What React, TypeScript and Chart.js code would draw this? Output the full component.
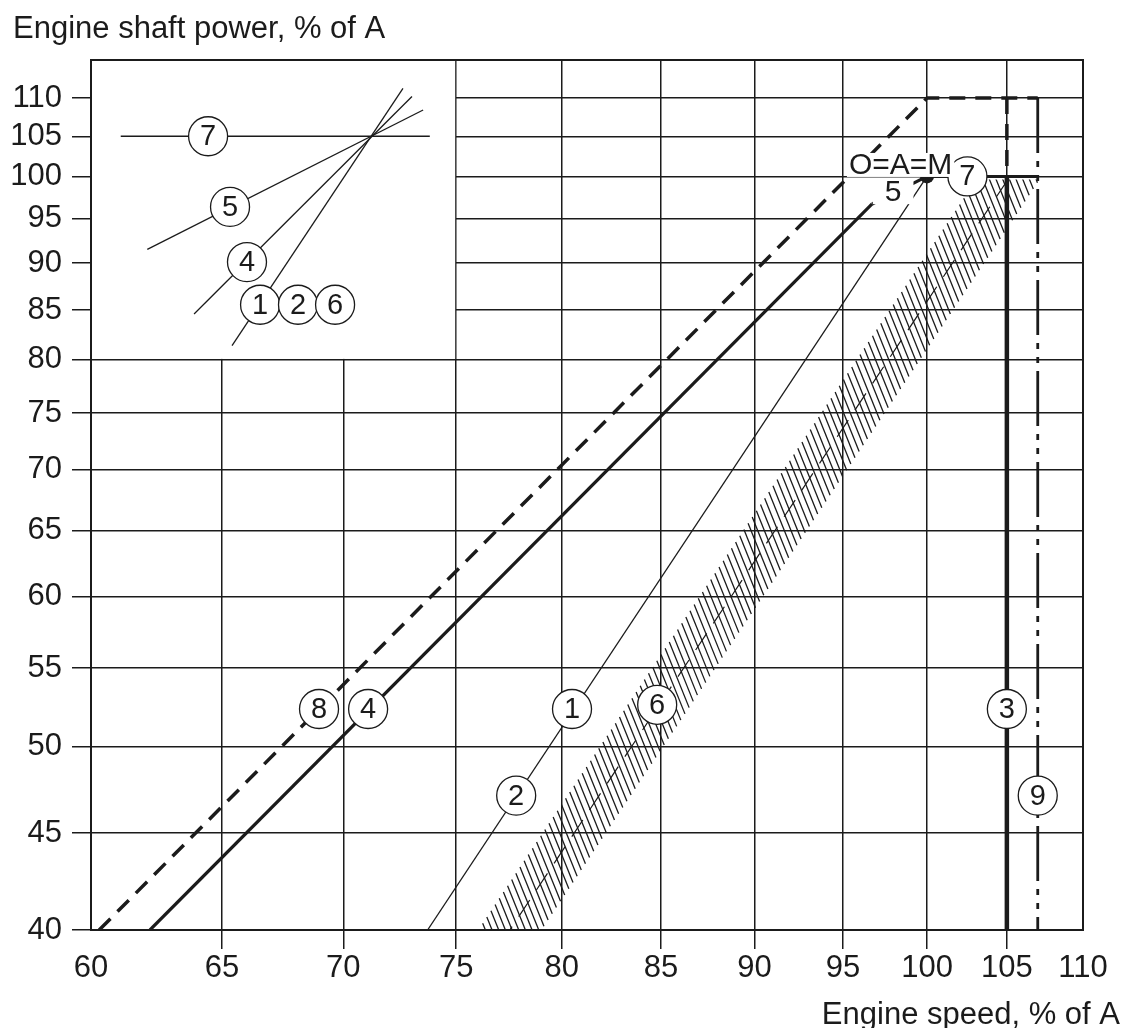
import React, { useEffect, useRef } from "react";
import { Chart, registerables } from "chart.js";
Chart.register(...registerables);

// ---- axes ----
const xTicks = [60, 65, 70, 75, 80, 85, 90, 95, 100, 105, 110];
const yTicks = [40, 45, 50, 55, 60, 65, 70, 75, 80, 85, 90, 95, 100, 105, 110];
const X_MIN = 60;
const X_MAX = 110;
const Y_MIN = 40;
const Y_MAX = 115.2;

// ---- main diagram lines (engine speed %, shaft power %) ----
const line8 = [{ x: 60.3, y: 40 }, { x: 100, y: 110 }, { x: 107, y: 110 }];
const line8Drop = [{ x: 105, y: 110 }, { x: 105, y: 100 }];
const line4 = [{ x: 62.2, y: 40 }, { x: 96.7, y: 96.7 }];
const line5 = [{ x: 96.7, y: 96.7 }, { x: 100, y: 100 }];
const line1 = [{ x: 73.7, y: 40 }, { x: 100, y: 100 }];
const line7 = [{ x: 100, y: 100 }, { x: 107, y: 100 }];
const line3 = [{ x: 105, y: 100 }, { x: 105, y: 40 }];
const line9 = [{ x: 107, y: 110 }, { x: 107, y: 40 }];
const pointOAM = [{ x: 100, y: 100 }];
// line 6: hatched band around a light propeller curve
const line6Center = [{ x: 77.5, y: 40 }, { x: 105.2, y: 100 }];

// ---- inset (schematic of line slopes) ----
const insetBox = { x0: 60, x1: 75, y0: 80, y1: 115.2 };
const inset7 = [{ x: 61.1, y: 105 }, { x: 73.8, y: 105 }];
const inset5 = [{ x: 62.1, y: 91.5 }, { x: 73.5, y: 108.4 }];
const inset4 = [{ x: 63.9, y: 84.6 }, { x: 73.0, y: 110.2 }];
const inset1 = [{ x: 65.4, y: 81.4 }, { x: 72.6, y: 111.3 }];

// ---- labels ----
const circledLabels = [
  { t: "8", x: 68.97, y: 52.33 },
  { t: "4", x: 71.07, y: 52.33 },
  { t: "1", x: 80.5, y: 52.33 },
  { t: "2", x: 77.8, y: 47.1 },
  { t: "6", x: 84.8, y: 52.6 },
  { t: "3", x: 105, y: 52.33 },
  { t: "9", x: 107, y: 47.1 },
  { t: "7", x: 102.5, y: 100 },
  { t: "7", x: 64.45, y: 105 },
  { t: "5", x: 65.32, y: 96.36 },
  { t: "4", x: 66.0, y: 90.1 },
  { t: "1", x: 66.53, y: 85.55 },
  { t: "2", x: 68.09, y: 85.55 },
  { t: "6", x: 69.65, y: 85.55 },
];
const plainLabels = [
  { t: "O=A=M", x: 98.4, y: 101.4, pad: 2 },
  { t: "5", x: 97.95, y: 98.1, pad: 12 },
];
const yTitle = "Engine shaft power, % of A";
const xTitle = "Engine speed, % of A";

const INK = "#1b1b1b";
const FONT = "'Liberation Sans', Arial, Helvetica, sans-serif";

const mk = (data: any[], width: number, dash: number[] = []) => ({
  data,
  showLine: true,
  pointRadius: 0,
  borderColor: INK,
  backgroundColor: INK,
  borderWidth: width,
  borderDash: dash,
  borderCapStyle: "butt",
  fill: false,
  tension: 0,
});

const diagramPlugin = {
  id: "diagram",
  beforeDatasetsDraw(chart: any) {
    const { ctx, chartArea: a, scales } = chart;
    const sx = scales.x;
    const sy = scales.y;
    // blank inset area
    const ix0 = sx.getPixelForValue(insetBox.x0);
    const ix1 = sx.getPixelForValue(insetBox.x1);
    const iy1 = sy.getPixelForValue(insetBox.y1);
    const iy0 = sy.getPixelForValue(insetBox.y0);
    ctx.save();
    ctx.fillStyle = "#fff";
    ctx.fillRect(ix0 + 1, iy1 + 1, ix1 - ix0 - 2, iy0 - iy1 - 2);
    ctx.restore();

    // hatched band (line 6)
    const p0x = sx.getPixelForValue(line6Center[0].x);
    const p0y = sy.getPixelForValue(line6Center[0].y);
    const p1x = sx.getPixelForValue(line6Center[1].x);
    const p1y = sy.getPixelForValue(line6Center[1].y);
    const len = Math.hypot(p1x - p0x, p1y - p0y);
    const ux = (p1x - p0x) / len;
    const uy = (p1y - p0y) / len;
    const ang = (112 * Math.PI) / 180;
    const dx = Math.cos(ang);
    const dy = -Math.sin(ang);
    const half = 32;
    const topY = sy.getPixelForValue(100);
    ctx.save();
    ctx.beginPath();
    ctx.rect(a.left, topY + 3, a.right - a.left, a.bottom - topY - 3);
    ctx.clip();
    ctx.strokeStyle = INK;
    ctx.lineWidth = 1.3;
    for (let t = -80; t <= len + 40; t += 7.5) {
      const cx = p0x + ux * t;
      const cy = p0y + uy * t;
      ctx.beginPath();
      ctx.moveTo(cx - dx * half, cy - dy * half);
      ctx.lineTo(cx + dx * half, cy + dy * half);
      ctx.stroke();
    }
    ctx.setLineDash([20, 12]);
    ctx.lineWidth = 1.2;
    ctx.beginPath();
    ctx.moveTo(p0x - ux * 80, p0y - uy * 80);
    ctx.lineTo(p1x, p1y);
    ctx.stroke();
    ctx.restore();
  },
  afterDatasetsDraw(chart: any) {
    const { ctx, chartArea: a, scales } = chart;
    const sx = scales.x;
    const sy = scales.y;
    ctx.save();
    // frame
    ctx.strokeStyle = INK;
    ctx.lineWidth = 2;
    ctx.strokeRect(a.left, a.top, a.right - a.left, a.bottom - a.top);
    // circled labels
    ctx.font = `29px ${FONT}`;
    ctx.textAlign = "center";
    ctx.textBaseline = "middle";
    for (const l of circledLabels) {
      const px = sx.getPixelForValue(l.x);
      const py = sy.getPixelForValue(l.y);
      ctx.beginPath();
      ctx.arc(px, py, 19.5, 0, Math.PI * 2);
      ctx.fillStyle = "#fff";
      ctx.fill();
      ctx.lineWidth = 1.3;
      ctx.strokeStyle = INK;
      ctx.stroke();
      ctx.fillStyle = INK;
      ctx.fillText(l.t, px, py + 1);
    }
    // plain labels with white backing
    ctx.font = `30px ${FONT}`;
    for (const l of plainLabels) {
      const px = sx.getPixelForValue(l.x);
      const py = sy.getPixelForValue(l.y);
      const w = ctx.measureText(l.t).width;
      ctx.fillStyle = "#fff";
      ctx.fillRect(px - w / 2 - l.pad, py - 12, w + 2 * l.pad, 24);
      ctx.fillStyle = INK;
      ctx.fillText(l.t, px, py + 1);
    }
    ctx.restore();
  },
  afterDraw(chart: any) {
    const { ctx } = chart;
    ctx.save();
    ctx.fillStyle = INK;
    ctx.font = `31px ${FONT}`;
    ctx.textBaseline = "alphabetic";
    ctx.textAlign = "left";
    ctx.fillText(yTitle, 13, 38);
    ctx.textAlign = "right";
    ctx.fillText(xTitle, 1120, 1024);
    ctx.restore();
  },
};

export default function App() {
  const ref = useRef<HTMLCanvasElement>(null);
  useEffect(() => {
    const canvas = ref.current!;
    const chart = new Chart(canvas, {
      type: "scatter",
      data: {
        datasets: [
          mk(inset7, 1.3),
          mk(inset5, 1.3),
          mk(inset4, 1.3),
          mk(inset1, 1.3),
          mk(line1, 1.3),
          mk(line8, 3.5, [16, 10]),
          mk(line8Drop, 3.5, [16, 10]),
          mk(line4, 3.2),
          mk(line5, 3.2),
          mk(line7, 3),
          mk(line3, 4.5),
          mk(line9, 2.8, [55, 8, 6, 8, 6, 8]),
          { ...mk(pointOAM, 0), showLine: false, pointRadius: 7, pointBackgroundColor: INK, pointBorderWidth: 0 },
        ] as any,
      },
      options: {
        responsive: false,
        devicePixelRatio: 1,
        animation: false,
        events: [],
        layout: { padding: { left: 0, top: 60, right: 45, bottom: 0 } },
        plugins: { legend: { display: false }, tooltip: { enabled: false } },
        scales: {
          x: {
            type: "logarithmic",
            min: X_MIN,
            max: X_MAX,
            afterBuildTicks: (s: any) => {
              s.ticks = xTicks.map((v) => ({ value: v }));
            },
            afterFit: (s: any) => {
              s.height = 98;
            },
            ticks: {
              autoSkip: false,
              maxRotation: 0,
              minRotation: 0,
              padding: 1,
              color: INK,
              font: { family: FONT, size: 31 },
              callback: (v: any) => String(v),
            },
            grid: {
              color: INK,
              lineWidth: 1.5,
              tickLength: 19,
              tickColor: (c: any) => (c.tick && (c.tick.value === 60 || c.tick.value === 110) ? "rgba(0,0,0,0)" : INK),
            },
            border: { display: false },
          },
          y: {
            type: "logarithmic",
            min: Y_MIN,
            max: Y_MAX,
            afterBuildTicks: (s: any) => {
              s.ticks = yTicks.map((v) => ({ value: v }));
            },
            afterFit: (s: any) => {
              s.width = 91;
            },
            ticks: {
              autoSkip: false,
              padding: 10,
              color: INK,
              font: { family: FONT, size: 31 },
              callback: (v: any) => String(v),
            },
            grid: { color: INK, lineWidth: 1.5, tickLength: 19 },
            border: { display: false },
          },
        },
      } as any,
      plugins: [diagramPlugin],
    });
    return () => chart.destroy();
  }, []);
  return (
    <div style={{ position: "absolute", left: 0, top: 0, width: 1128, height: 1028, background: "#fff" }}>
      <canvas ref={ref} width={1128} height={1028} style={{ width: 1128, height: 1028, display: "block" }} />
    </div>
  );
}
